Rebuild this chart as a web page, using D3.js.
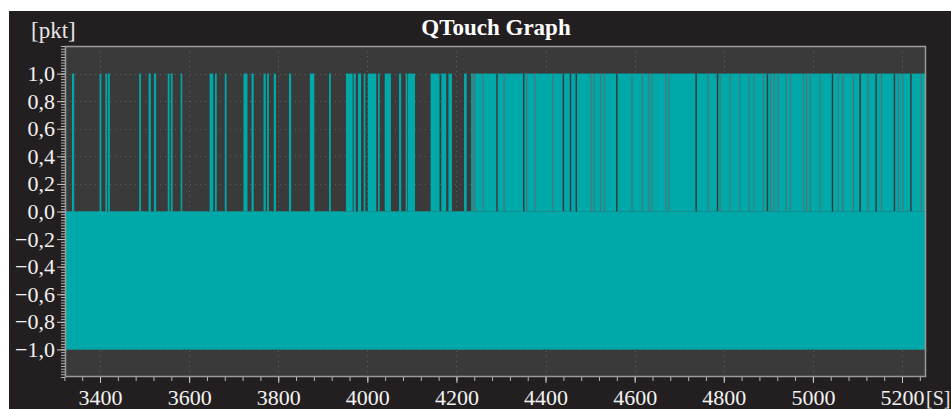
<!DOCTYPE html>
<html>
<head>
<meta charset="utf-8">
<script src="https://cdn.jsdelivr.net/npm/d3@7"></script>
<style>
  html, body { margin: 0; padding: 0; background: #fff; }
  svg { display: block; }
  text { font-family: "Liberation Serif", "DejaVu Serif", serif; }
</style>
</head>
<body>
<div id="chart"></div>
<script>
// x domain of the recording [s]
const timeRange = [3321.4, 5253.9];
const valueRange = [-1.2, 1.2];

// tick values
const xMajorTicks = [3400, 3600, 3800, 4000, 4200, 4400, 4600, 4800, 5000, 5200];
const yMajorTicks = [-1.0, -0.8, -0.6, -0.4, -0.2, 0.0, 0.2, 0.4, 0.6, 0.8, 1.0];

// the base signal toggles between -1 and 0 over the whole recording
const baseLevels = [-1, 0];

// single touch pulses (value 1) before the dense part, [start, end] in s
const pulses = [
  [3337, 3342], [3399, 3403], [3412, 3416], [3418, 3422], [3488, 3492],
  [3509, 3514], [3521, 3526], [3552, 3556], [3559, 3563], [3581, 3584],
  [3646, 3654], [3658, 3662], [3680, 3684], [3722, 3731], [3740, 3745],
  [3767, 3772], [3775, 3779], [3790, 3795], [3824, 3829], [3871, 3881],
  [3914, 3918], [3952, 3967], [3969, 3974], [3979, 3986], [3992, 3993],
  [4001, 4020], [4024, 4027], [4039, 4053], [4071, 4076], [4086, 4089],
  [4091, 4107], [4142, 4162], [4166, 4177], [4182, 4190], [4217, 4223]
];

// dense part: signal mostly at 1, from here to the end
const denseStart = 4233;

// moments in the dense part where the signal falls back (long / short drop)
const gapsLong = [4291, 4351, 4440, 4456, 4469, 4560, 4738, 4786, 4898,
  5044, 5106, 5142, 5183, 5220];
const gapsShort = [4237, 4242, 4260, 4307, 4358, 4376, 4416, 4502, 4509,
  4524, 4532, 4594, 4617, 4632, 4639, 4670, 4677, 4765, 4792, 4814, 4836,
  4857, 4868, 4889, 4905, 4913, 4922, 4940, 4950, 4979, 4986, 4994, 5016,
  5057, 5067, 5091, 5124, 5154, 5192, 5202, 5243];

const W = 951, H = 409;
const plot = { left: 65, top: 46, right: 926, bottom: 377 };
const teal = '#00a9a9';

const svg = d3.select('#chart').append('svg')
  .attr('width', W)
  .attr('height', H);

// dark panel
svg.append('rect')
  .attr('x', 9).attr('y', 11)
  .attr('width', W - 9).attr('height', H - 11)
  .attr('fill', '#231f20');

const x = d3.scaleLinear().domain(timeRange).range([plot.left, plot.right]);
const y = d3.scaleLinear().domain(valueRange).range([plot.bottom, plot.top]);

svg.append('rect')
  .attr('x', plot.left).attr('y', plot.top)
  .attr('width', plot.right - plot.left).attr('height', plot.bottom - plot.top)
  .attr('fill', '#3a3a3a');

// dotted grid
const grid = svg.append('g').attr('class', 'grid')
  .attr('stroke', '#616161').attr('stroke-width', 1).attr('stroke-dasharray', '1,4');
grid.selectAll('.gx').data(xMajorTicks).enter().append('line')
  .attr('x1', d => Math.round(x(d)) + 0.5).attr('x2', d => Math.round(x(d)) + 0.5)
  .attr('y1', plot.top).attr('y2', plot.bottom);
grid.selectAll('.gy').data(yMajorTicks).enter().append('line')
  .attr('x1', plot.left).attr('x2', plot.right)
  .attr('y1', d => Math.round(y(d)) + 0.5).attr('y2', d => Math.round(y(d)) + 0.5);

const data = svg.append('g').attr('class', 'data');

// base band -1..0
data.append('rect')
  .attr('x', x(timeRange[0]))
  .attr('width', x(timeRange[1]) - x(timeRange[0]))
  .attr('y', y(baseLevels[1]))
  .attr('height', y(baseLevels[0]) - y(baseLevels[1]))
  .attr('fill', teal);

// single pulses
data.selectAll('.pulse').data(pulses).enter().append('rect')
  .attr('class', 'pulse')
  .attr('x', d => x(d[0]))
  .attr('width', d => Math.max(1.6, x(d[1]) - x(d[0])))
  .attr('y', y(1))
  .attr('height', y(0) - y(1))
  .attr('fill', teal);

// dense part
data.append('rect')
  .attr('x', x(denseStart))
  .attr('width', x(timeRange[1]) - x(denseStart))
  .attr('y', y(1))
  .attr('height', y(0) - y(1))
  .attr('fill', teal);

data.selectAll('.gapS').data(gapsShort).enter().append('line')
  .attr('x1', d => x(d)).attr('x2', d => x(d))
  .attr('y1', y(1)).attr('y2', y(0))
  .attr('stroke', '#567070').attr('stroke-width', 1.1);
data.selectAll('.gapL').data(gapsLong).enter().append('line')
  .attr('x1', d => x(d)).attr('x2', d => x(d))
  .attr('y1', y(1)).attr('y2', y(0))
  .attr('stroke', '#3a3a3a').attr('stroke-width', 1.5);

// edges of the toggling signal
data.selectAll('.edge').data(baseLevels).enter().append('line')
  .attr('x1', plot.left).attr('x2', plot.right)
  .attr('y1', d => y(d)).attr('y2', d => y(d))
  .attr('stroke', '#178c8c').attr('stroke-width', 1.2)
  .attr('stroke-dasharray', '3,1');

// frame
svg.append('path')
  .attr('d', `M${plot.left + 0.5},${plot.top + 0.5}H${plot.right - 0.5}V${plot.bottom - 0.5}H${plot.left + 0.5}Z`)
  .attr('fill', 'none').attr('stroke', '#9a9a9a').attr('stroke-width', 1.5);

const fmt = v => d3.format('.1f')(v).replace('.', ',').replace('-', '\u2013');

// y axis
const yMinor = d3.range(-1.2, 1.2001, 0.02);
svg.append('g')
  .attr('transform', `translate(${plot.left},0)`)
  .call(d3.axisLeft(y).tickValues(yMinor).tickSize(4).tickFormat(''))
  .call(g => g.select('.domain').remove())
  .call(g => g.selectAll('line').attr('stroke', '#b5b5b5'));
svg.append('g')
  .attr('transform', `translate(${plot.left},0)`)
  .call(d3.axisLeft(y).tickValues(yMajorTicks).tickSize(8).tickPadding(2).tickFormat(fmt))
  .call(g => g.select('.domain').remove())
  .call(g => g.selectAll('line').attr('stroke', '#c8c8c8'))
  .call(g => g.selectAll('text')
    .attr('fill', '#f2f2f2').attr('font-size', 22)
    .attr('font-family', '"Liberation Serif", serif'));

// x axis
const xMinor = d3.range(3320, 5254, 40);
svg.append('g')
  .attr('transform', `translate(0,${plot.bottom})`)
  .call(d3.axisBottom(x).tickValues(xMinor).tickSize(4).tickFormat(''))
  .call(g => g.select('.domain').remove())
  .call(g => g.selectAll('line').attr('stroke', '#b5b5b5'));
svg.append('g')
  .attr('transform', `translate(0,${plot.bottom})`)
  .call(d3.axisBottom(x).tickValues(xMajorTicks).tickSize(6).tickPadding(6).tickFormat(d3.format('d')))
  .call(g => g.select('.domain').remove())
  .call(g => g.selectAll('line').attr('stroke', '#c8c8c8'))
  .call(g => g.selectAll('text')
    .attr('fill', '#f2f2f2').attr('font-size', 22)
    .attr('font-family', '"Liberation Serif", serif'));

// titles and units
svg.append('text')
  .attr('x', (plot.left + plot.right) / 2 + 0.5).attr('y', 35)
  .attr('text-anchor', 'middle')
  .attr('fill', '#ffffff').attr('font-size', 23).attr('font-weight', 'bold')
  .text('QTouch Graph');
svg.append('text')
  .attr('x', 31).attr('y', 38)
  .attr('fill', '#e6e6e6').attr('font-size', 23)
  .text('[pkt]');
svg.append('text')
  .attr('x', 926).attr('y', 405)
  .attr('fill', '#e6e6e6').attr('font-size', 20)
  .text('[S]');
</script>
</body>
</html>
